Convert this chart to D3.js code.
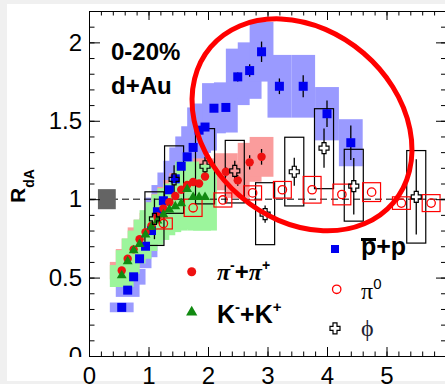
<!DOCTYPE html>
<html>
<head>
<meta charset="utf-8">
<script src="https://cdn.jsdelivr.net/npm/d3@7"></script>
<style>
  body { margin: 0; background: #f0f0f0; }
  svg { display: block; }
</style>
</head>
<body>
<script>
// p-bar + p
var protonPt  = [0.55,0.65,0.75,0.85,0.95,1.05,1.15,1.25,1.35,1.45,1.55,1.65,1.75,1.85,1.95,2.1,2.3,2.5,2.7,2.9,3.2,3.6,4.0,4.4];
var protonR   = [0.31,0.42,0.505,0.62,0.70,0.80,0.92,0.99,1.06,1.13,1.21,1.27,1.33,1.44,1.46,1.58,1.585,1.78,1.82,1.94,1.72,1.72,1.545,1.36];
var protonErr = [0.01,0.01,0.01,0.01,0.01,0.01,0.01,0.01,0.01,0.01,0.01,0.01,0.01,0.01,0.015,0.02,0.02,0.03,0.04,0.065,0.05,0.07,0.085,0.11];
var protonSys = [0.031,0.043,0.05,0.06,0.07,0.08,0.09,0.1,0.11,0.115,0.12,0.13,0.135,0.145,0.15,0.16,0.16,0.18,0.18,0.19,0.2,0.2,0.17,0.15];

// pi- + pi+
var pionPt  = [0.55,0.65,0.75,0.85,0.95,1.05,1.15,1.25,1.35,1.45,1.55,1.65,1.75,1.85,1.95,2.3,2.5,2.7,2.9];
var pionR   = [0.545,0.62,0.68,0.745,0.79,0.83,0.89,0.94,0.98,1.02,1.06,1.09,1.11,1.10,1.145,1.175,1.12,1.235,1.27];
var pionErr = [0.01,0.01,0.01,0.01,0.01,0.01,0.01,0.01,0.01,0.01,0.01,0.015,0.015,0.015,0.02,0.03,0.035,0.045,0.05];
var pionSys = [0.055,0.062,0.068,0.075,0.079,0.083,0.089,0.094,0.098,0.102,0.106,0.109,0.111,0.11,0.115,0.118,0.112,0.124,0.127];

// K- + K+
var kaonPt  = [0.55,0.65,0.75,0.85,0.95,1.05,1.15,1.25,1.35,1.45,1.55,1.65,1.75,1.85,1.95];
var kaonR   = [0.51,0.60,0.67,0.71,0.77,0.82,0.86,0.90,0.93,0.95,0.97,1.06,1.01,1.01,1.01];
var kaonSys = [0.07,0.075,0.08,0.09,0.1,0.11,0.12,0.13,0.14,0.15,0.16,0.18,0.2,0.21,0.21];

// pi0
var pi0Pt  = [1.25,1.75,2.25,2.75,3.25,3.75,4.25,4.75,5.25,5.75];
var pi0R   = [0.845,0.945,0.995,1.04,1.06,1.06,1.03,1.045,0.975,0.975];
var pi0Sys = [0.035,0.055,0.045,0.045,0.053,0.085,0.066,0.06,0.04,0.054];

// phi
var phiPt    = [1.1,1.43,1.95,2.45,2.96,3.45,3.95,4.45,5.5];
var phiR     = [0.875,1.126,1.21,1.18,0.905,1.175,1.325,1.083,1.015];
var phiErr   = [0.13,0.09,0.06,0.065,0.055,0.09,0.125,0.18,0.24];
var phiSysLo = [0.705,0.91,0.97,0.976,0.71,0.957,1.067,0.86,0.72];
var phiSysHi = [1.047,1.34,1.45,1.375,1.105,1.395,1.577,1.318,1.31];

// global normalisation box
var normPt = 0.3, normErr = 0.064;

var xMajor = [0,1,2,3,4,5];
var yMajor = [0,0.5,1,1.5,2];

var W = 445, H = 384;
var svg = d3.select("body").append("svg").attr("width", W).attr("height", H);

svg.append("rect").attr("width", W).attr("height", H).attr("fill", "#f0f0f0");
svg.append("rect").attr("x", 7).attr("y", 4).attr("width", W - 7).attr("height", 377).attr("fill", "#fff");

var x = d3.scaleLinear().domain([0, 6]).range([89, 446]);
var y = d3.scaleLinear().domain([0, 2.2]).range([356, 11]);

function band(pts, vals, sys, hw, color) {
  svg.append("g").selectAll("rect")
    .data(pts).enter().append("rect")
      .attr("x", function(d) { return x(d - hw); })
      .attr("width", function(d) { return x(d + hw) - x(d - hw); })
      .attr("y", function(d, i) { return y(vals[i] + sys[i]); })
      .attr("height", function(d, i) { return y(vals[i] - sys[i]) - y(vals[i] + sys[i]); })
      .attr("fill", color);
}

band(protonPt, protonR, protonSys, 0.2, "#9a9aff");
band(pionPt, pionR, pionSys, 0.2, "#fa9c9c");
band(kaonPt, kaonR, kaonSys, 0.2, "#9cf59c");

// dashed line at 1
svg.append("line")
  .attr("x1", x(0)).attr("x2", x(6))
  .attr("y1", y(1)).attr("y2", y(1))
  .attr("stroke", "#000").attr("stroke-dasharray", "7,4");

svg.append("rect")
  .attr("x", x(normPt - 0.15)).attr("width", x(normPt + 0.15) - x(normPt - 0.15))
  .attr("y", y(1 + normErr)).attr("height", y(1 - normErr) - y(1 + normErr))
  .attr("fill", "#646464");

// phi systematic boxes
svg.append("g").selectAll("rect")
  .data(phiPt).enter().append("rect")
    .attr("x", function(d) { return x(d - 0.16); })
    .attr("width", function(d) { return x(d + 0.16) - x(d - 0.16); })
    .attr("y", function(d, i) { return y(phiSysHi[i]); })
    .attr("height", function(d, i) { return y(phiSysLo[i]) - y(phiSysHi[i]); })
    .attr("fill", "none").attr("stroke", "#000").attr("stroke-width", 1.2);

// pi0 systematic boxes
svg.append("g").selectAll("rect")
  .data(pi0Pt).enter().append("rect")
    .attr("x", function(d) { return x(d - 0.15); })
    .attr("width", function(d) { return x(d + 0.15) - x(d - 0.15); })
    .attr("y", function(d, i) { return y(pi0R[i] + pi0Sys[i]); })
    .attr("height", function(d, i) { return y(pi0R[i] - pi0Sys[i]) - y(pi0R[i] + pi0Sys[i]); })
    .attr("fill", "none").attr("stroke", "#f00").attr("stroke-width", 1.2);

// error bars, split around the marker
function errBars(pts, vals, errs, gap) {
  var g = svg.append("g").attr("stroke", "#000").attr("stroke-width", 1.3);
  pts.forEach(function(p, i) {
    var yc = y(vals[i]), yt = y(vals[i] + errs[i]), yb = y(vals[i] - errs[i]);
    if (yc - yt > gap) g.append("line").attr("x1", x(p)).attr("x2", x(p)).attr("y1", yt).attr("y2", yc - gap);
    if (yb - yc > gap) g.append("line").attr("x1", x(p)).attr("x2", x(p)).attr("y1", yc + gap).attr("y2", yb);
  });
}
errBars(protonPt, protonR, protonErr, 4);
errBars(pionPt, pionR, pionErr, 4);
errBars(phiPt, phiR, phiErr, 5);

// p-bar + p squares
svg.append("g").selectAll("rect")
  .data(protonPt).enter().append("rect")
    .attr("x", function(d) { return x(d) - 4.5; })
    .attr("y", function(d, i) { return y(protonR[i]) - 4.5; })
    .attr("width", 9).attr("height", 9)
    .attr("fill", "#0000f0");

// pions
svg.append("g").selectAll("circle")
  .data(pionPt).enter().append("circle")
    .attr("cx", function(d) { return x(d); })
    .attr("cy", function(d, i) { return y(pionR[i]); })
    .attr("r", 4.2)
    .attr("fill", "#ee1111");

// kaons
var tri = d3.symbol().type(d3.symbolTriangle).size(42);
svg.append("g").selectAll("path")
  .data(kaonPt).enter().append("path")
    .attr("d", tri)
    .attr("transform", function(d, i) { return "translate(" + x(d) + "," + (y(kaonR[i]) - 0.5) + ")"; })
    .attr("fill", "#118a11");

// pi0 open circles
svg.append("g").selectAll("circle")
  .data(pi0Pt).enter().append("circle")
    .attr("cx", function(d) { return x(d); })
    .attr("cy", function(d, i) { return y(pi0R[i]); })
    .attr("r", 4.2)
    .attr("fill", "none").attr("stroke", "#f00").attr("stroke-width", 1.3);

// phi open crosses
var crossPath = "M-2,-5.5H2V-2H5V2H2V5.5H-2V2H-5V-2H-2Z";
svg.append("g").selectAll("path")
  .data(phiPt).enter().append("path")
    .attr("d", crossPath)
    .attr("transform", function(d, i) { return "translate(" + x(d) + "," + y(phiR[i]) + ")"; })
    .attr("fill", "none").attr("stroke", "#000").attr("stroke-width", 1.2);

// axes
function style(g) {
  g.selectAll("line").attr("stroke", "#000");
  g.selectAll("path").attr("stroke", "#000");
  g.selectAll("text").attr("font-family", "Liberation Sans, Arial, sans-serif").attr("font-size", 24).attr("fill", "#000");
}
var xMinor = d3.range(0, 6.01, 0.2);
var yMinor = d3.range(0, 2.21, 0.1);

svg.append("g").attr("transform", "translate(0," + y(0) + ")")
  .call(d3.axisBottom(x).tickValues(xMinor).tickSize(-4.5).tickSizeOuter(0).tickFormat(""))
  .call(function(g) { g.select(".domain").remove(); }).call(style);
svg.append("g").attr("transform", "translate(0," + y(0) + ")")
  .call(d3.axisBottom(x).tickValues(xMajor).tickSize(-9).tickSizeOuter(0).tickPadding(11).tickFormat(d3.format("d")))
  .call(style);

svg.append("g").attr("transform", "translate(0," + y(2.2) + ")")
  .call(d3.axisTop(x).tickValues(xMinor).tickSize(-4.5).tickSizeOuter(0).tickFormat(""))
  .call(function(g) { g.select(".domain").remove(); }).call(style);
svg.append("g").attr("transform", "translate(0," + y(2.2) + ")")
  .call(d3.axisTop(x).tickValues(xMajor).tickSize(-9).tickSizeOuter(0).tickFormat(""))
  .call(style);

// the "0" label on the y axis is cut at the frame in the original
svg.append("defs").append("clipPath").attr("id", "yclip")
  .append("rect").attr("x", -100).attr("y", 0).attr("width", 300).attr("height", y(0) + 1);

svg.append("g").attr("transform", "translate(" + x(0) + ",0)")
  .call(d3.axisLeft(y).tickValues(yMinor).tickSize(-5.5).tickSizeOuter(0).tickFormat(""))
  .call(function(g) { g.select(".domain").remove(); }).call(style);
svg.append("g").attr("transform", "translate(" + x(0) + ",0)")
  .attr("clip-path", "url(#yclip)")
  .call(d3.axisLeft(y).tickValues(yMajor).tickSize(-11).tickSizeOuter(0).tickPadding(7).tickFormat(function(d) { return String(d); }))
  .call(style);

svg.append("g").attr("transform", "translate(" + x(6) + ",0)")
  .call(d3.axisRight(y).tickValues(yMinor).tickSize(-5).tickSizeOuter(0).tickFormat(""))
  .call(function(g) { g.select(".domain").remove(); }).call(style);
svg.append("g").attr("transform", "translate(" + x(6) + ",0)")
  .call(d3.axisRight(y).tickValues(yMajor).tickSize(-10).tickSizeOuter(0).tickFormat(""))
  .call(style);

// y title
var yt = svg.append("text")
  .attr("transform", "translate(25,203) rotate(-90)")
  .attr("font-family", "Liberation Sans, Arial, sans-serif").attr("font-weight", "bold");
yt.append("tspan").attr("font-size", 21).text("R");
yt.append("tspan").attr("font-size", 14).attr("dy", 9).text("dA");

// labels
var sans = "Liberation Sans, Arial, sans-serif";
var serif = "Liberation Serif, Times New Roman, serif";
svg.append("text").attr("x", 111).attr("y", 60).attr("font-family", sans).attr("font-weight", "bold").attr("font-size", 24).text("0-20%");
svg.append("text").attr("x", 111).attr("y", 94).attr("font-family", sans).attr("font-weight", "bold").attr("font-size", 24).text("d+Au");

// legend
svg.append("circle").attr("cx", 191.7).attr("cy", 271.7).attr("r", 4.5).attr("fill", "#ee1111");
var t1 = svg.append("text").attr("x", 217).attr("y", 280).attr("font-family", sans).attr("font-weight", "bold").attr("font-size", 24);
t1.append("tspan").attr("font-family", serif).attr("font-style", "italic").text("π");
t1.append("tspan").attr("font-size", 14).attr("dy", -10).text("-");
t1.append("tspan").attr("dy", 10).text("+");
t1.append("tspan").attr("font-family", serif).attr("font-style", "italic").text("π");
t1.append("tspan").attr("font-size", 14).attr("dy", -10).text("+");

svg.append("path").attr("d", d3.symbol().type(d3.symbolTriangle).size(55))
  .attr("transform", "translate(191.7,312.3)").attr("fill", "#118a11");
var t2 = svg.append("text").attr("x", 217).attr("y", 323).attr("font-family", sans).attr("font-weight", "bold").attr("font-size", 25);
t2.append("tspan").text("K");
t2.append("tspan").attr("font-size", 15).attr("dy", -11).text("-");
t2.append("tspan").attr("dy", 11).text("+K");
t2.append("tspan").attr("font-size", 15).attr("dy", -11).text("+");

svg.append("rect").attr("x", 331).attr("y", 245).attr("width", 8).attr("height", 8).attr("fill", "#0000f0");
svg.append("text").attr("x", 361).attr("y", 255).attr("font-family", sans).attr("font-weight", "bold").attr("font-size", 25).text("p+p");
svg.append("line").attr("x1", 361).attr("x2", 376).attr("y1", 239.5).attr("y2", 239.5).attr("stroke", "#000").attr("stroke-width", 3);

svg.append("circle").attr("cx", 336.7).attr("cy", 289.3).attr("r", 4.2).attr("fill", "none").attr("stroke", "#f00").attr("stroke-width", 1.3);
var t3 = svg.append("text").attr("x", 361).attr("y", 299).attr("font-family", serif).attr("font-size", 24);
t3.append("tspan").text("π");
t3.append("tspan").attr("font-family", sans).attr("font-size", 15).attr("dy", -10).text("0");

svg.append("path").attr("d", crossPath).attr("transform", "translate(335,328.3)")
  .attr("fill", "none").attr("stroke", "#000").attr("stroke-width", 1.2);
svg.append("text").attr("x", 361).attr("y", 336).attr("font-family", serif).attr("font-size", 24).attr("fill", "#223").text("ϕ");

// highlight ellipse
svg.append("ellipse")
  .attr("transform", "translate(" + x(3.58) + "," + y(1.474) + ") rotate(40.5)")
  .attr("rx", 120).attr("ry", 94.5)
  .attr("fill", "none").attr("stroke", "#f00").attr("stroke-width", 5);
</script>
</body>
</html>
